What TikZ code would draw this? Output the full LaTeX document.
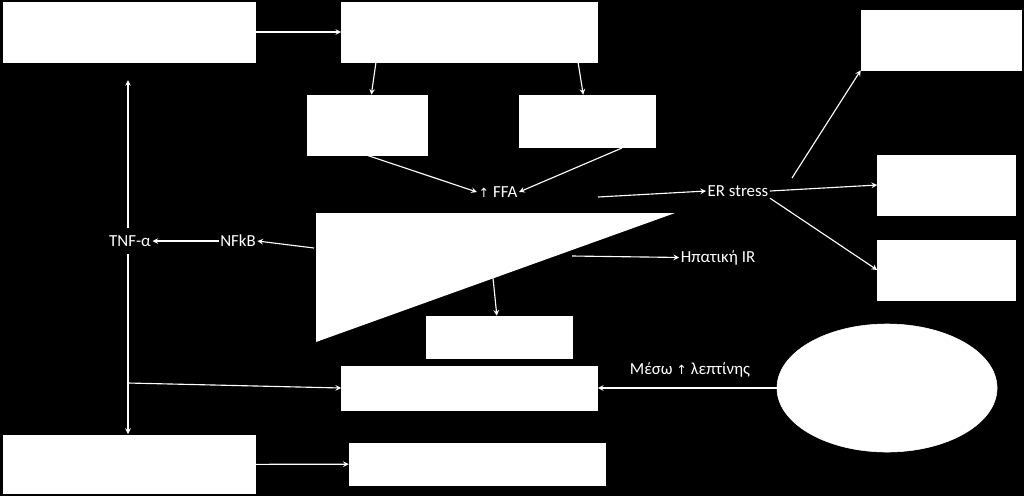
\documentclass[tikz,border=0pt]{standalone}
\usepackage{fontspec}
\setmainfont{Carlito}
\newfontfamily\symfont{DejaVu Sans}
\usetikzlibrary{positioning,shapes.geometric}
\tikzset{
  wbox/.style={draw=white, fill=white},
  lbl/.style={text=white, font=\fontsize{12}{14}\selectfont, inner sep=1pt},
  arr/.style={draw=white, thick, ->, >=stealth}
}
\begin{document}
\begin{tikzpicture}[x=0.025cm, y=-0.025cm]
\fill[black] (0,0) rectangle (1024,496);
\useasboundingbox (0,0) rectangle (1024,496);
% boxes
\node[wbox, minimum width=6.3cm, minimum height=1.5cm] (a) at (129.5,32) {};
\node[wbox, minimum width=6.4cm, minimum height=1.5cm] (b) at (469.5,32) {};
\node[wbox, minimum width=3cm, minimum height=1.5cm] (c) at (367,125) {};
\node[wbox, minimum width=3.4cm, minimum height=1.3cm] (d) at (587.5,121) {};
\node[wbox, minimum width=4cm, minimum height=1.5cm] (e) at (941,40) {};
\node[wbox, minimum width=3.45cm, minimum height=1.5cm] (f) at (946.5,185) {};
\node[wbox, minimum width=3.45cm, minimum height=1.5cm] (g) at (946.5,270) {};
\node[wbox, minimum width=3.65cm, minimum height=1.05cm] (h) at (499,337) {};
\node[wbox, minimum width=6.4cm, minimum height=1.1cm] (i) at (469.5,388) {};
\node[wbox, minimum width=6.3cm, minimum height=1.45cm] (j) at (129.5,464.5) {};
\node[wbox, minimum width=6.4cm, minimum height=1.05cm] (k) at (477,464) {};
\node[wbox, ellipse, minimum width=5.5cm, minimum height=3.2cm] (el) at (887,388) {};
\fill[white] (316,213) -- (675,213) -- (316,342) -- cycle;
% labels
\node[lbl] (ffa) at (498,192) {{\symfont\small↑} FFA};
\node[lbl] (er) at (738,191) {ER stress};
\node[lbl] (tnf) at (130,241) {TNF-α};
\node[lbl] (nfkb) at (238,241) {NFkB};
\node[lbl] (hir) at (718,258) {Ηπατική IR};
\node[lbl] (lep) at (690,370) {Μέσω {\symfont\small↑} λεπτίνης};
% coordinates for triangle ends
\coordinate (t1) at (598,197);
\coordinate (t2) at (314,248);
\coordinate (t3) at (572,256);
\coordinate (t4) at (493,278);
\coordinate (vtop) at (128,80);
\coordinate (vbot) at (128,434);
\coordinate (vmid) at (128,383);
% connectors
\path[arr] (a) -- (b);
\path[arr] (376,62) -- (c);
\path[arr] (578,62) -- (d);
\path[arr] (c.south) -- (ffa.west);
\path[arr] (622,148) -- (ffa.east);
\path[arr] (t1) -- (er.west);
\path[arr] (792,178) -- (e.south west);
\path[arr] (er.east) -- (f.west);
\path[arr] (er.south east) -- (g.west);
\path[arr] (nfkb) -- (tnf);
\path[arr] (t2) -- (nfkb.east);
\path[arr] (t3) -- (hir);
\path[arr] (t4) -- (h);
\path[arr] (128,228) -- (vtop);
\path[arr] (128,254) -- (vbot);
\path[arr] (vmid) -- (i.west);
\path[arr] (el) -- (i.east);
\path[arr] (j) -- (k);
\end{tikzpicture}
\end{document}
